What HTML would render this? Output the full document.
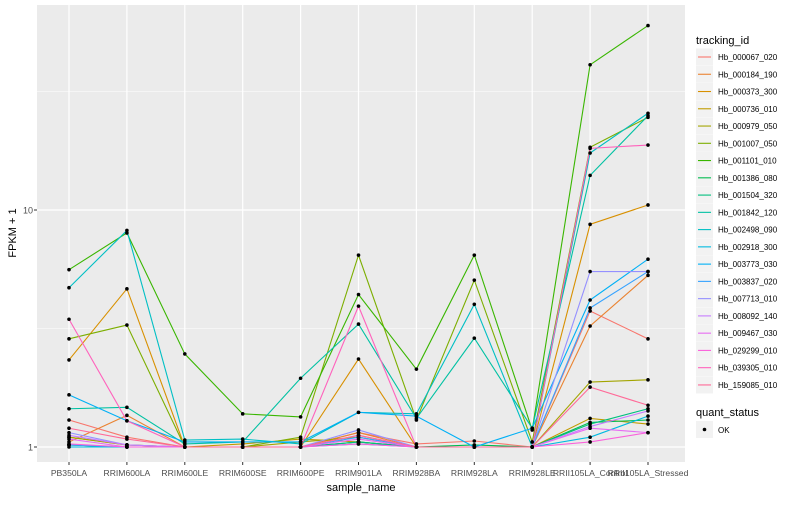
<!DOCTYPE html>
<html><head><meta charset="utf-8"><style>
body{margin:0;background:#fff;font-family:"Liberation Sans",sans-serif;}
svg text{font-family:"Liberation Sans",sans-serif;}
</style></head><body>
<svg id="chart" width="800" height="500" xmlns="http://www.w3.org/2000/svg">
<rect x="0" y="0" width="800" height="500" fill="#fff"/>
<rect x="37" y="5" width="648" height="457" fill="#EBEBEB"/>
<g id="grid"></g><g id="lines"></g><g id="pts"></g><g id="axes"></g><g id="legend"></g>
</svg>
<script>
const categories=["PB350LA","RRIM600LA","RRIM600LE","RRIM600SE","RRIM600PE","RRIM901LA","RRIM928BA","RRIM928LA","RRIM928LE","RRII105LA_Control","RRII105LA_Stressed"];
const seriesNames=["Hb_000067_020","Hb_000184_190","Hb_000373_300","Hb_000736_010","Hb_000979_050","Hb_001007_050","Hb_001101_010","Hb_001386_080","Hb_001504_320","Hb_001842_120","Hb_002498_090","Hb_002918_300","Hb_003773_030","Hb_003837_020","Hb_007713_010","Hb_008092_140","Hb_009467_030","Hb_029299_010","Hb_039305_010","Hb_159085_010"];
const seriesColors=["#F8766D","#EA8331","#D89000","#C09B00","#A3A500","#7CAE00","#39B600","#00BB4E","#00BF7D","#00C1A3","#00BFC4","#00BAE0","#00B0F6","#35A2FF","#9590FF","#C77CFF","#E76BF3","#FA62DB","#FF62BC","#FF6A98"];
const v000067=[1.3,1.1,1.0,1.0,1.0,1.15,1.03,1.06,1.0,3.75,2.86];
const v000184=[1.05,1.36,1.0,1.0,1.0,1.15,1.0,1.0,1.0,3.24,5.3];
const v000373=[2.33,4.65,1.0,1.0,1.0,2.35,1.0,1.0,1.0,8.7,10.5];
const v000736=[1.1,1.02,1.0,1.03,1.08,1.05,1.0,1.0,1.0,1.32,1.25];
const v000979=[1.1,1.02,1.0,1.0,1.05,1.1,1.0,1.0,1.0,1.88,1.92];
const v001007=[2.86,3.27,1.0,1.0,1.1,6.45,1.3,5.06,1.05,18.4,24.6];
const v001101=[5.6,8.0,2.47,1.38,1.34,4.4,2.13,6.45,1.18,41,60];
const v001386=[1.02,1.0,1.0,1.0,1.0,1.05,1.0,1.02,1.0,1.27,1.3];
const v001504=[1.02,1.0,1.0,1.0,1.0,1.05,1.0,1.0,1.0,1.25,1.45];
const v001842=[1.45,1.47,1.03,1.05,1.95,3.3,1.32,2.88,1.2,14,25];
const v002498=[4.7,8.2,1.07,1.08,1.03,1.4,1.38,4.0,1.0,17.4,25.6];
const v002918=[1.0,1.0,1.0,1.0,1.0,1.03,1.0,1.0,1.0,1.1,1.35];
const v003773=[1.66,1.29,1.05,1.05,1.05,1.4,1.35,1.0,1.2,4.17,6.2];
const v003837=[1.02,1.0,1.0,1.0,1.0,1.1,1.0,1.0,1.0,3.86,5.5];
const v007713=[1.15,1.02,1.0,1.0,1.0,1.18,1.0,1.0,1.0,5.5,5.5];
const v008092=[1.12,1.02,1.0,1.0,1.0,1.12,1.0,1.0,1.0,1.22,1.42];
const v009467=[1.08,1.0,1.0,1.0,1.0,1.08,1.0,1.0,1.0,1.2,1.15];
const v029299=[1.03,1.0,1.0,1.0,1.0,1.03,1.0,1.0,1.0,1.05,1.15];
const v039305=[3.46,1.29,1.0,1.0,1.0,3.93,1.0,1.0,1.0,18.2,18.8];
const v159085=[1.2,1.08,1.0,1.0,1.0,1.12,1.0,1.0,1.0,1.79,1.5];
const seriesValues=[v000067,v000184,v000373,v000736,v000979,v001007,v001101,v001386,v001504,v001842,v002498,v002918,v003773,v003837,v007713,v008092,v009467,v029299,v039305,v159085];
const yTicks=[1,10];
const yMinor=[Math.sqrt(10),Math.sqrt(1000)];

const NS="http://www.w3.org/2000/svg";
function xs(i){return 69+i*57.9;}
function ys(v){return 447-Math.log10(v)*237;}
function mk(tag,attrs,parent,txt){const e=document.createElementNS(NS,tag);for(const k in attrs)e.setAttribute(k,attrs[k]);if(txt!==undefined)e.textContent=txt;document.getElementById(parent).appendChild(e);return e;}

yMinor.forEach(v=>{const l=mk('line',{x1:37,x2:685,y1:ys(v),y2:ys(v),stroke:'#fff','stroke-width':0.6},'grid');

});
yTicks.forEach(v=>{const l=mk('line',{x1:37,x2:685,y1:ys(v),y2:ys(v),stroke:'#fff','stroke-width':1.2},'grid');


const t=mk('text',{x:33,y:ys(v)+3.5,'text-anchor':'end','font-size':9,fill:'#4D4D4D'},'axes',String(v));


mk('line',{x1:34,x2:37,y1:ys(v),y2:ys(v),stroke:'#333','stroke-width':1},'axes');});
categories.forEach((c,i)=>{const l=mk('line',{x1:xs(i),x2:xs(i),y1:5,y2:462,stroke:'#fff','stroke-width':1.2},'grid');


mk('line',{x1:xs(i),x2:xs(i),y1:462,y2:465,stroke:'#333','stroke-width':1},'axes');
const t=mk('text',{x:xs(i),y:476,'text-anchor':'middle','font-size':8.6,fill:'#4D4D4D'},'axes',c);

});
seriesValues.forEach((vals,s)=>{const p=mk('polyline',{points:vals.map((v,i)=>xs(i)+','+ys(v)).join(' '),fill:'none',stroke:seriesColors[s],'stroke-width':1.1},'lines');


vals.forEach((v,i)=>{const r=mk('circle',{cx:xs(i),cy:ys(v),r:1.8,fill:'#000'},'pts');

});});
let t=mk('text',{x:361,y:491,'text-anchor':'middle','font-size':11,fill:'#000'},'axes','sample_name');


t=mk('text',{x:16,y:233,'text-anchor':'middle','font-size':11,fill:'#000',transform:'rotate(-90 16 233)'},'axes','FPKM + 1');


t=mk('text',{x:696,y:44,'font-size':11,fill:'#000'},'legend','tracking_id');


seriesNames.forEach((n,s)=>{const y=57+s*17.26;
const g=mk('g',{},'legend');


const bg=document.createElementNS(NS,'rect');bg.setAttribute('x',696);bg.setAttribute('y',y-8.5);bg.setAttribute('width',17);bg.setAttribute('height',17);bg.setAttribute('fill','#F2F2F2');g.appendChild(bg);
const l=document.createElementNS(NS,'line');l.setAttribute('x1',698);l.setAttribute('x2',711);l.setAttribute('y1',y);l.setAttribute('y2',y);l.setAttribute('stroke',seriesColors[s]);l.setAttribute('stroke-width',1.1);g.appendChild(l);
const tx=document.createElementNS(NS,'text');tx.setAttribute('x',718);tx.setAttribute('y',y+3);tx.setAttribute('font-size',8);tx.setAttribute('fill','#000');tx.textContent=n;g.appendChild(tx);});
t=mk('text',{x:696,y:416,'font-size':11,fill:'#000'},'legend','quant_status');


mk('rect',{x:696,y:421,width:17,height:17,fill:'#F2F2F2'},'legend');
mk('circle',{cx:704.5,cy:429.5,r:1.8,fill:'#000'},'legend');
t=mk('text',{x:718,y:433,'font-size':8,fill:'#000'},'legend','OK');


</script>
</body></html>
